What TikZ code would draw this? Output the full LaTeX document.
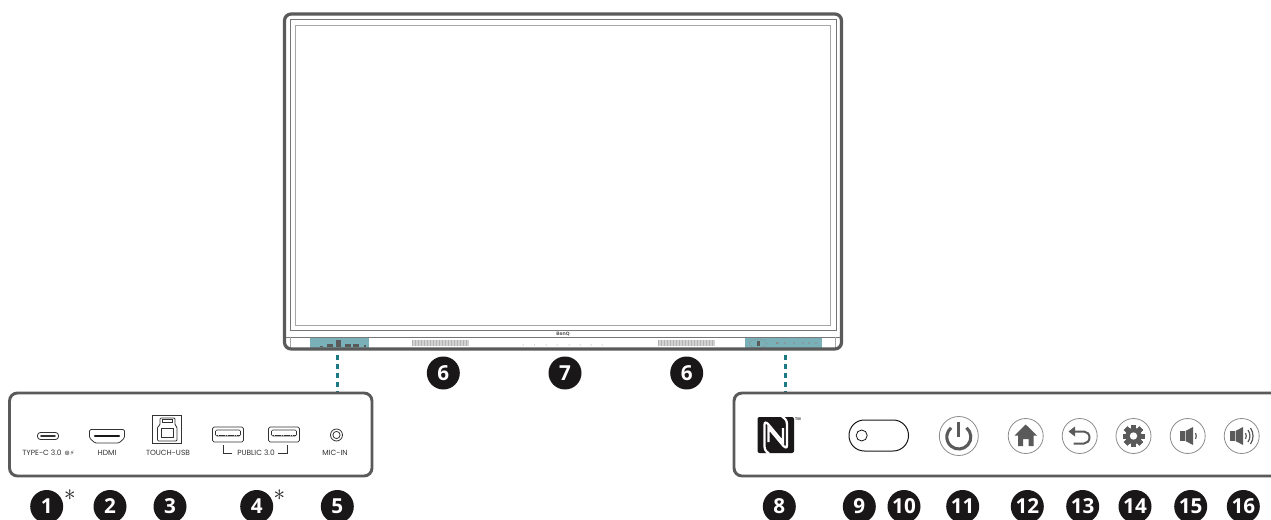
\documentclass[tikz,border=0pt]{standalone}
\usepackage{fontspec}
\setmainfont{Open Sans}
\newfontfamily\labelfont{Poppins}
\usetikzlibrary{arrows.meta}
\definecolor{frame}{HTML}{5A5A5A}
\definecolor{innerone}{HTML}{767676}
\definecolor{innertwo}{HTML}{A6A6A6}
\definecolor{midgray}{HTML}{8C8C8C}
\definecolor{lightgray}{HTML}{D2D2D2}
\definecolor{tealdash}{HTML}{1D7A85}
\definecolor{tealfill}{HTML}{7AB0B8}
\definecolor{badgeblack}{HTML}{1A1718}
\definecolor{iconlabel}{HTML}{333333}
\tikzset{
  badge/.style={circle,fill=badgeblack,text=white,minimum size=24.75pt,inner sep=0pt,font=\fontsize{15.5}{15.5}\selectfont\bfseries},
  portlabel/.style={text=iconlabel,inner sep=0pt,font=\labelfont\fontsize{5.6}{6}\selectfont},
  panel/.style={draw=frame,line width=2.2pt,rounded corners=6pt},
  thinline/.style={draw=iconlabel,line width=0.6pt},
  roundbtn/.style={circle,draw=midgray,line width=0.6pt,inner sep=0pt,minimum size=26.25pt},
  leader/.style={draw=tealdash,line width=2.25pt,dash pattern=on 4.1pt off 2.65pt},
  iconline/.style={draw=frame,line width=1.5pt},
  starmark/.style={inner sep=0pt,text=badgeblack,font=\fontsize{19}{19}\selectfont},
}
\begin{document}
\begin{tikzpicture}[x=0.75pt,y=-0.75pt]
\useasboundingbox (0,0) rectangle (1271,520);
\clip (0,0) rectangle (1271,520);
\fill[white] (0,0) rectangle (1271,520);

% monitor
\draw[draw=innerone,line width=0.7pt] (290.5,19) rectangle (836,330.5);
\draw[draw=innertwo,line width=0.7pt] (295.5,25) rectangle (830.5,325);
\draw[draw=innerone,line width=0.6pt] (285,337) -- (841,337);
\draw[draw=innertwo,line width=0.6pt] (290.7,337) -- (290.7,348);
\draw[draw=innertwo,line width=0.6pt] (835.7,337) -- (835.7,348);
% teal areas
\fill[tealfill] (310,338) rectangle (369,349);
\fill[tealfill] (745,338) rectangle (822,349);
\fill[frame] (320,346) rectangle (323,347.5);
\fill[frame] (327,344.5) rectangle (333,347.5);
\fill[frame] (336,340.5) rectangle (341,347.5);
\fill[frame] (345,344) rectangle (351,347.5);
\fill[frame] (353,344) rectangle (359,347.5);
\fill[frame] (363.5,345) rectangle (365.5,347.5);
\fill[frame] (757,341) rectangle (760,346);
\draw[midgray,line width=0.3pt,dash pattern=on 1.5pt off 1pt] (758,343.5) ellipse (8.5 and 4.5);
\foreach \x in {778,785,794,803,809,816}{\fill[midgray] (\x,343) circle (0.9);}
\fill[midgray] (776,342) rectangle (778,344);
% speakers
\foreach \a in {412,658}{
  \fill[lightgray] (\a,340) rectangle ++(57,6.5);
  \foreach \i in {0,...,18}{\draw[black!30,line width=0.15pt] (\a+3*\i,340) -- (\a+3*\i,346.5);}
}
% front dots
\foreach \x in {523,534.7,546,557,569,580,591,602}{\fill[midgray] (\x,345) circle (0.5);}
\node[inner sep=0pt,text=frame,font=\labelfont\bfseries\fontsize{3.6}{4}\selectfont] (brand) at (563,333.6) {BenQ};
\draw[draw=frame,line width=2.4pt,rounded corners=5pt] (284.5,14) rectangle (841.5,349);

% leaders
\coordinate (lead1a) at (337,355);
\coordinate (lead1b) at (337,392);
\coordinate (lead2a) at (785,355);
\coordinate (lead2b) at (785,392);
\draw[leader] (lead1a) -- (lead1b);
\draw[leader] (lead2a) -- (lead2b);

% panels
\draw[panel] (9.5,393) rectangle (372,476);
\draw[panel] (1280,393) -- (734,393) -- (734,476) -- (1280,476);

% type-c
\draw[draw=iconlabel,line width=0.6pt,rounded corners=2.2pt] (37.5,432.5) rectangle (58.5,439.5);
\draw[draw=iconlabel,line width=1.3pt,line cap=round] (41,436) -- (55,436);
% hdmi
\draw[thinline,rounded corners=1pt] (89.5,429.5) -- (124.5,429.5) -- (124.5,438) -- (119,443) -- (95,443) -- (89.5,438) -- cycle;
\draw[draw=badgeblack,line width=1.6pt,line cap=round] (95,436) -- (119,436);
% touch-usb
\draw[thinline,line width=0.75pt] (152.5,415.5) rectangle (181.5,443.5);
\draw[thinline,rounded corners=0.8pt] (160,418) -- (175,418) -- (175,425) -- (177,427) -- (177,441) -- (157.5,441) -- (157.5,427) -- (160,425) -- cycle;
\draw[thinline] (162,419) rectangle (172,422.5);
\draw[thinline] (161,428) rectangle (173.5,437);
% usb-a
\foreach \x in {212.5,268.5}{
  \draw[thinline,rounded corners=1.2pt] (\x,427) rectangle ++(31,15);
  \draw[draw=iconlabel,line width=0.4pt,rounded corners=1pt] (\x+3,430) rectangle ++(25,6);
  \draw[draw=iconlabel,line width=0.4pt,dash pattern=on 1.3pt off 0.4pt] (\x+4,435) -- ++(23,0);
}
% mic
\draw[thinline] (336.5,435) circle (6);
\draw[thinline] (336.5,435) circle (3.6);

\node[portlabel] (l1) at (42,453) {TYPE-C 3.0};
\node[inner sep=0pt,text=iconlabel,font=\fontsize{5}{5}\selectfont] (l1b) at (69.5,453) {\fontspec{DejaVu Sans}⊛⚡};
\node[portlabel] (l2) at (107,453) {HDMI};
\node[portlabel] (l3) at (168,453) {TOUCH-USB};
\node[portlabel] (l4) at (256,453) {PUBLIC 3.0};
\node[portlabel] (l5) at (335,453) {MIC-IN};
\draw[thinline] (223,445) -- (223,453) -- (232,453);
\draw[thinline] (287.5,445) -- (287.5,453) -- (278,453);

% NFC
\fill[badgeblack,rounded corners=1.5pt] (757.5,417) rectangle (794,453);
\draw[white,line width=1.7pt] (769,453.5) .. controls (765,451) and (764.5,449) .. (764.5,445) -- (764.5,425) .. controls (764.5,422) and (766,422) .. (768,424) -- (783,442) -- (783,428);
\draw[white,line width=1.7pt] (782,416.5) .. controls (786,419) and (787,421) .. (787,425) -- (787,445) .. controls (787,448) and (785.5,448) .. (783.5,446) -- (768.5,428) -- (768.5,442);
\node[inner sep=0pt,text=iconlabel,font=\fontsize{2.8}{3}\selectfont\bfseries] (tm) at (798,419.3) {TM};

% toggle
\draw[draw=badgeblack,line width=0.75pt,rounded corners=11.5pt] (849,420) rectangle (908.5,451);
\draw[draw=badgeblack,line width=0.6pt] (861.7,435.5) circle (5.5);

% power
\node[roundbtn,minimum size=29.25pt] (power) at (958.8,436) {};
\draw[draw=frame,line width=2.3pt] (958.8,437)++(-50:12) arc[start angle=-50,end angle=230,radius=12];
\draw[draw=frame,line width=2.3pt] (958.8,422) -- (958.8,437);

% home
\node[roundbtn] (home) at (1025.7,436) {};
\fill[frame] (1025.7,424.5) -- (1037,435.5) -- (1033.5,435.5) -- (1033.5,446) -- (1028.5,446) -- (1028.5,439) -- (1023,439) -- (1023,446) -- (1018,446) -- (1018,435.5) -- (1014.5,435.5) -- cycle;
% back
\node[roundbtn] (back) at (1079.7,436) {};
\draw[iconline] (1073,431.5) -- (1084,431.5) arc[start angle=-90,end angle=90,x radius=5.5,y radius=6] -- (1073.5,443.5);
\fill[frame] (1068.5,431.5) -- (1075,426.5) -- (1075,436.5) -- cycle;
% gear
\node[roundbtn] (gear) at (1133.5,436) {};
\foreach \a in {0,45,...,315}{\fill[frame,rotate around={\a:(1133.5,436)}] (1131,425) rectangle (1136,447);}
\fill[frame] (1133.5,436) circle (8.2);
\fill[white] (1133.5,436) circle (3.7);
% volume down
\node[roundbtn] (voldown) at (1187.7,436) {};
\fill[frame] (1180,431) rectangle (1184.5,441);
\fill[frame] (1185.5,431) -- (1193,427) -- (1193,445) -- (1185.5,441) -- cycle;
\draw[draw=frame,line width=0.9pt] (1195.5,433) arc[start angle=-30,end angle=30,radius=6];
% volume up
\node[roundbtn] (volup) at (1241.7,436) {};
\fill[frame] (1230,431) rectangle (1234.5,441);
\fill[frame] (1235.5,431) -- (1243,427) -- (1243,445) -- (1235.5,441) -- cycle;
\draw[draw=frame,line width=0.9pt] (1245.5,433) arc[start angle=-30,end angle=30,radius=6];
\draw[draw=frame,line width=0.9pt] (1248,430) arc[start angle=-35,end angle=35,radius=10.5];
\draw[draw=frame,line width=0.9pt] (1250.5,428) arc[start angle=-35,end angle=35,radius=14];

% badges
\node[badge] (b6a) at (443.3,373) {6};
\node[badge] (b7) at (565,373) {7};
\node[badge] (b6b) at (686.7,373) {6};
\node[badge] (b1) at (46.7,506.5) {1};
\node[badge] (b2) at (110,506.5) {2};
\node[badge] (b3) at (170,506.5) {3};
\node[badge] (b4) at (256.7,506.5) {4};
\node[badge] (b5) at (337.3,506.5) {5};
\node[badge] (b8) at (779.3,506.5) {8};
\node[badge] (b9) at (859.3,506.5) {9};
\node[badge] (b10) at (904,506.5) {10};
\node[badge] (b11) at (962.7,506.5) {11};
\node[badge] (b12) at (1027.3,506.5) {12};
\node[badge] (b13) at (1082.7,506.5) {13};
\node[badge] (b14) at (1135,506.5) {14};
\node[badge] (b15) at (1190.7,506.5) {15};
\node[badge] (b16) at (1243.3,506.5) {16};
\node[starmark] (s1) at (70,495) {$\ast$};
\node[starmark] (s4) at (279.3,495) {$\ast$};
\end{tikzpicture}
\end{document}
